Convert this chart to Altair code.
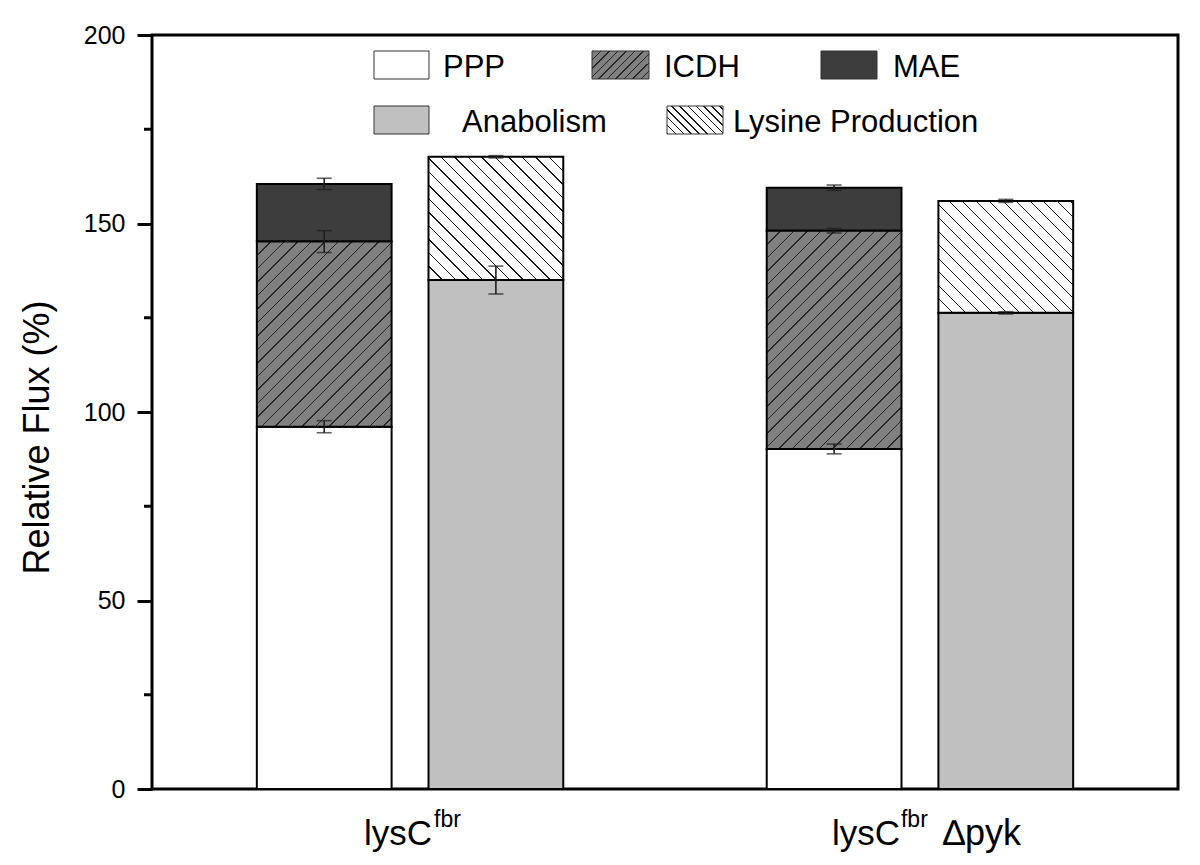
import math
import altair as alt
import pandas as pd

# ---------------- data ----------------
groups = ["lysC fbr", "lysC fbr dpyk"]
ppp = [96.1, 90.2]
icdh = [49.1, 57.9]
mae = [15.3, 11.4]
anabolism = [135.0, 126.3]
lysine = [32.7, 29.7]
ppp_err = [1.6, 1.3]
icdh_err = [2.9, 0.6]
mae_err = [1.5, 0.7]
anab_err = [3.7, 0.3]
lys_err = [0.3, 0.4]
y_ticks = [0, 50, 100, 150, 200]
y_minor = [25, 75, 125, 175]
legend_names = ["PPP", "ICDH", "MAE", "Anabolism", "Lysine Production"]

# ---------------- layout / style ----------------
W, H = 1026, 754
FONT = "Liberation Sans, Arial, sans-serif"
PI, PO = 0.399, 0.2056
PIS = 0.215
step = W / (2 - PI + 2 * PO)
bw = step * (1 - PI)
step_s = bw / (2 - PIS)
BAR_W = step_s * (1 - PIS)
PX = H / 200.0

C_ICDH_BG, C_ICDH_LN = "#808080", "#262626"
C_MAE = "#3d3d3d"
C_ANAB = "#c0c0c0"


def hatch(bg, line, w, h, spacing, lw_frac, direction):
    """Linear gradient with hard stops that imitates 45-degree hatching."""
    n = (w + h) / spacing
    P = 1.0 / n
    stops = []
    t = 0.0
    while t < 1.0:
        a = round(t, 5)
        b = round(min(t + lw_frac * P, 1.0), 5)
        c = round(min(t + P, 1.0), 5)
        stops += [
            {"offset": a, "color": line},
            {"offset": b, "color": line},
            {"offset": b, "color": bg},
            {"offset": c, "color": bg},
        ]
        t += P
    k = (w + h) / (w * w + h * h)
    if direction == "/":
        x1, y1, x2, y2 = 0, 0, k * w, k * h
    else:
        x1, y1, x2, y2 = 0, 1, k * w, 1 - k * h
    return {"gradient": "linear", "x1": x1, "y1": y1, "x2": x2, "y2": y2, "stops": stops}


# ---------------- tables ----------------
rows = []
err_rows = []
for i, g in enumerate(groups):
    b0 = 0
    for seg, v, e in (("PPP", ppp[i], ppp_err[i]), ("ICDH", icdh[i], icdh_err[i]), ("MAE", mae[i], mae_err[i])):
        rows.append({"group": g, "side": "L", "seg": seg, "lo": b0, "hi": b0 + v})
        err_rows.append({"group": g, "side": "L", "elo": b0 + v - e, "ehi": b0 + v + e})
        b0 += v
    b0 = 0
    for seg, v, e in (("Anabolism", anabolism[i], anab_err[i]), ("Lysine", lysine[i], lys_err[i])):
        rows.append({"group": g, "side": "R", "seg": seg, "lo": b0, "hi": b0 + v})
        err_rows.append({"group": g, "side": "R", "elo": b0 + v - e, "ehi": b0 + v + e})
        b0 += v
bars = pd.DataFrame(rows)
errs = pd.DataFrame(err_rows)

xscale = alt.Scale(domain=groups, paddingInner=PI, paddingOuter=PO)
xenc = alt.X("group:N", scale=xscale, axis=None)
xoff = alt.XOffset("side:N", scale=alt.Scale(domain=["L", "R"], paddingInner=PIS, paddingOuter=0))
yscale = alt.Scale(domain=[0, 200], nice=False, zero=True)
yaxis = alt.Axis(
    values=y_ticks, title="Relative Flux (%)", grid=False, domain=False,
    tickSize=15, tickWidth=3, tickColor="black",
    labelFontSize=25, labelFont=FONT, labelColor="black", labelPadding=12,
    titleFontSize=36, titleFont=FONT, titleFontWeight="normal", titleColor="black",
    titlePadding=27, titleY=402,
)


def Y(field):
    return alt.Y(f"{field}:Q", scale=yscale, axis=yaxis)


base = alt.Chart(bars)


def bar_layer(flt, fill):
    return base.transform_filter(flt).mark_bar(fill=fill, stroke="black", strokeWidth=2).encode(
        x=xenc, xOffset=xoff, y=Y("lo"), y2="hi"
    )


layers = [
    bar_layer(alt.datum.seg == "PPP", "white"),
    bar_layer(alt.datum.seg == "MAE", C_MAE),
    bar_layer(alt.datum.seg == "Anabolism", C_ANAB),
]
for i, g in enumerate(groups):
    layers.append(bar_layer((alt.datum.seg == "ICDH") & (alt.datum.group == g),
                            hatch(C_ICDH_BG, C_ICDH_LN, BAR_W, icdh[i] * PX, 13.5, 0.1, "/")))
    layers.append(bar_layer((alt.datum.seg == "Lysine") & (alt.datum.group == g),
                            hatch("white", "#1a1a1a", BAR_W, lysine[i] * PX, 13.5, 0.09, "\\")))

# error bars
ebase = alt.Chart(errs)
layers.append(ebase.mark_rule(color="#1e1e1e", strokeWidth=1.6).encode(x=xenc, xOffset=xoff, y=Y("elo"), y2="ehi"))
layers.append(ebase.mark_tick(color="#1e1e1e", size=15, thickness=1.6).encode(x=xenc, xOffset=xoff, y=Y("elo")))
layers.append(ebase.mark_tick(color="#1e1e1e", size=15, thickness=1.6).encode(x=xenc, xOffset=xoff, y=Y("ehi")))

# minor ticks on the y axis
minor = pd.DataFrame({"v": y_minor})
layers.append(alt.Chart(minor).mark_rule(color="black", strokeWidth=3).encode(
    y=Y("v"), x=alt.value(-8), x2=alt.value(0)))

# x labels with superscripts
lab = pd.DataFrame({"group": groups, "main": ["lysC", "lysC"], "sup": ["fbr", "fbr"], "suf": ["", "\u2206pyk"]})
label_dx = {groups[0]: (22, 24, 0), groups[1]: (-20, -19, 23)}
for g in groups:
    d_main, d_sup, d_suf = label_dx[g]
    lb = alt.Chart(lab).transform_filter(alt.datum.group == g)
    layers.append(lb.mark_text(align="right", baseline="alphabetic", fontSize=35, font=FONT, color="black", dx=d_main)
                  .encode(x=xenc, y=alt.value(810), text="main:N"))
    layers.append(lb.mark_text(align="left", baseline="alphabetic", fontSize=23, font=FONT, color="black", dx=d_sup)
                  .encode(x=xenc, y=alt.value(792), text="sup:N"))
    layers.append(lb.mark_text(align="left", baseline="alphabetic", fontSize=36, font=FONT, color="black", dx=d_suf)
                  .encode(x=xenc, y=alt.value(810), text="suf:N"))

# manual legend
leg_box = {
    "PPP": (222, 277, 16, 44, "white"),
    "ICDH": (440, 497, 16, 44, hatch(C_ICDH_BG, C_ICDH_LN, 57, 28, 8.5, 0.16, "/")),
    "MAE": (669, 725, 16, 44, C_MAE),
    "Anabolism": (222, 277, 71, 99, C_ANAB),
    "Lysine Production": (515, 571, 71, 99, hatch("white", "#1a1a1a", 56, 28, 8.0, 0.14, "\\")),
}
leg_text = {"PPP": (291, 42), "ICDH": (512, 42), "MAE": (741, 42), "Anabolism": (310, 97), "Lysine Production": (581, 97)}
legdf = pd.DataFrame({"name": legend_names})
for nm in legend_names:
    x0, x1, y0, y1, fill = leg_box[nm]
    lc = alt.Chart(legdf).transform_filter(alt.datum.name == nm)
    layers.append(lc.mark_rect(fill=fill, stroke="#333333", strokeWidth=1).encode(
        x=alt.value(x0), x2=alt.value(x1), y=alt.value(y0), y2=alt.value(y1)))
    tx, ty = leg_text[nm]
    layers.append(lc.mark_text(align="left", baseline="alphabetic", fontSize=31, font=FONT, color="black").encode(
        x=alt.value(tx), y=alt.value(ty), text="name:N"))

chart = alt.layer(*layers).properties(
    width=W, height=H,
    background="white",
    autosize=alt.AutoSizeParams(type="none"),
    padding={"left": 144, "top": 27, "right": 14, "bottom": 70},
).configure_view(stroke="black", strokeWidth=3)

chart.save("out.html", embed_options={"renderer": "svg", "actions": False})
